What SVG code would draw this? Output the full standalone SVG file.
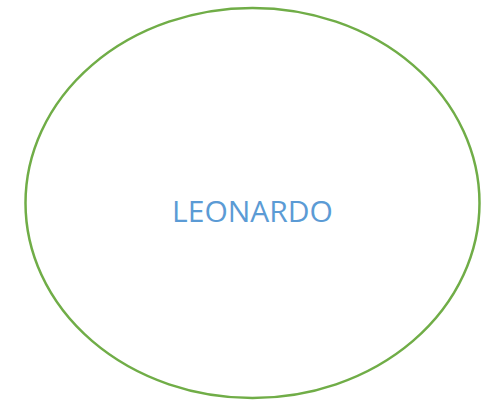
<svg xmlns="http://www.w3.org/2000/svg" width="487" height="400" viewBox="0 0 487 400">
<style>
.shape{fill:#fff;stroke:#70AD47;stroke-width:2.5}
.label{font-family:"Open Sans","Liberation Sans",sans-serif;font-size:30px;fill:#5B9BD5;text-anchor:middle}
</style>
<rect width="487" height="400" fill="#fff"/>
<g id="node-leonardo">
<ellipse class="shape" cx="252.5" cy="203" rx="227" ry="195"/>
<text class="label" x="252.5" y="222">LEONARDO</text>
</g>
<g id="connectors"/>
</svg>
